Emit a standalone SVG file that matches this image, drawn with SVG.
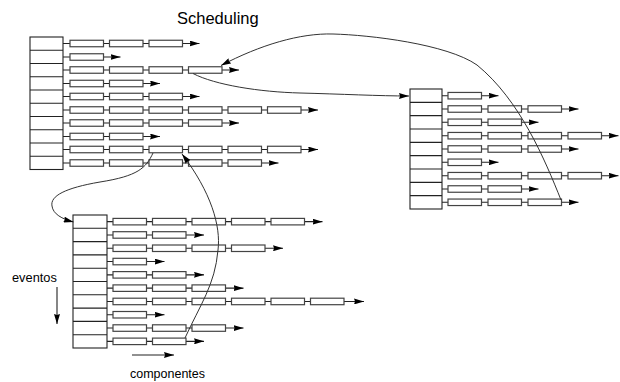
<svg xmlns="http://www.w3.org/2000/svg" width="620" height="382" viewBox="0 0 620 382">
<style>
.t{font-family:"Liberation Sans",Arial,sans-serif;fill:#000}
.arr{fill:#fff;stroke:#222;stroke-width:1.1}
.dv{stroke:#222;stroke-width:1.1}
.ln{stroke:#222;stroke-width:1.1;fill:none;marker-end:url(#ah)}
.b{fill:#fff;stroke:#444;stroke-width:1.2}
.cv{stroke:#333;stroke-width:1;fill:none;marker-end:url(#ah)}
</style>
<defs>
<marker id="ah" viewBox="0 0 10 6" refX="10" refY="3" markerWidth="10" markerHeight="6" markerUnits="userSpaceOnUse" orient="auto">
<path d="M0,0 L10,3 L0,6 L1,3 z" fill="#000"/>
</marker>
</defs>
<rect width="620" height="382" fill="#fff"/>
<text class="t" x="177" y="23.5" font-size="16.5">Scheduling</text>

<g id="top-array">
<rect class="arr" x="30" y="37" width="33" height="132.5"/>
<path class="dv" d="M30,50.25H63M30,63.5H63M30,76.75H63M30,90H63M30,103.25H63M30,116.5H63M30,129.75H63M30,143H63M30,156.25H63"/>
</g>
<g id="top-rows">
<g id="t1"><line class="ln" x1="63" y1="43.5" x2="199.5" y2="43.5"/><rect class="b" x="70" y="40.25" width="33.5" height="6.5"/><rect class="b" x="109.5" y="40.25" width="33.5" height="6.5"/><rect class="b" x="149" y="40.25" width="33.5" height="6.5"/></g>
<g id="t2"><line class="ln" x1="63" y1="57" x2="120.5" y2="57"/><rect class="b" x="70" y="53.75" width="33.5" height="6.5"/></g>
<g id="t3"><line class="ln" x1="63" y1="70" x2="239" y2="70"/><rect class="b" x="70" y="66.75" width="33.5" height="6.5"/><rect class="b" x="109.5" y="66.75" width="33.5" height="6.5"/><rect class="b" x="149" y="66.75" width="33.5" height="6.5"/><rect class="b" x="188.5" y="66.75" width="33.5" height="6.5"/></g>
<g id="t4"><line class="ln" x1="63" y1="83.5" x2="160" y2="83.5"/><rect class="b" x="70" y="80.25" width="33.5" height="6.5"/><rect class="b" x="109.5" y="80.25" width="33.5" height="6.5"/></g>
<g id="t5"><line class="ln" x1="63" y1="96.5" x2="199.5" y2="96.5"/><rect class="b" x="70" y="93.25" width="33.5" height="6.5"/><rect class="b" x="109.5" y="93.25" width="33.5" height="6.5"/><rect class="b" x="149" y="93.25" width="33.5" height="6.5"/></g>
<g id="t6"><line class="ln" x1="63" y1="110" x2="318" y2="110"/><rect class="b" x="70" y="106.75" width="33.5" height="6.5"/><rect class="b" x="109.5" y="106.75" width="33.5" height="6.5"/><rect class="b" x="149" y="106.75" width="33.5" height="6.5"/><rect class="b" x="188.5" y="106.75" width="33.5" height="6.5"/><rect class="b" x="228" y="106.75" width="33.5" height="6.5"/><rect class="b" x="267.5" y="106.75" width="33.5" height="6.5"/></g>
<g id="t7"><line class="ln" x1="63" y1="123" x2="239" y2="123"/><rect class="b" x="70" y="119.75" width="33.5" height="6.5"/><rect class="b" x="109.5" y="119.75" width="33.5" height="6.5"/><rect class="b" x="149" y="119.75" width="33.5" height="6.5"/><rect class="b" x="188.5" y="119.75" width="33.5" height="6.5"/></g>
<g id="t8"><line class="ln" x1="63" y1="136.5" x2="160" y2="136.5"/><rect class="b" x="70" y="133.25" width="33.5" height="6.5"/><rect class="b" x="109.5" y="133.25" width="33.5" height="6.5"/></g>
<g id="t9"><line class="ln" x1="63" y1="149.5" x2="318" y2="149.5"/><rect class="b" x="70" y="146.25" width="33.5" height="6.5"/><rect class="b" x="109.5" y="146.25" width="33.5" height="6.5"/><rect class="b" x="149" y="146.25" width="33.5" height="6.5"/><rect class="b" x="188.5" y="146.25" width="33.5" height="6.5"/><rect class="b" x="228" y="146.25" width="33.5" height="6.5"/><rect class="b" x="267.5" y="146.25" width="33.5" height="6.5"/></g>
<g id="t10"><line class="ln" x1="63" y1="163" x2="278.5" y2="163"/><rect class="b" x="70" y="159.75" width="33.5" height="6.5"/><rect class="b" x="109.5" y="159.75" width="33.5" height="6.5"/><rect class="b" x="149" y="159.75" width="33.5" height="6.5"/><rect class="b" x="188.5" y="159.75" width="33.5" height="6.5"/><rect class="b" x="228" y="159.75" width="33.5" height="6.5"/></g>
</g>

<g id="right-array">
<rect class="arr" x="410" y="89" width="32" height="120"/>
<path class="dv" d="M410,102.33H442M410,115.67H442M410,129H442M410,142.33H442M410,155.67H442M410,169H442M410,182.33H442M410,195.67H442"/>
</g>
<g id="right-rows">
<g id="r1"><line class="ln" x1="442" y1="95.7" x2="498.5" y2="95.7"/><rect class="b" x="448" y="92.45" width="33.5" height="6.5"/></g>
<g id="r2"><line class="ln" x1="442" y1="109" x2="578.5" y2="109"/><rect class="b" x="448" y="105.75" width="33.5" height="6.5"/><rect class="b" x="488" y="105.75" width="33.5" height="6.5"/><rect class="b" x="528" y="105.75" width="33.5" height="6.5"/></g>
<g id="r3"><line class="ln" x1="442" y1="122.3" x2="538.5" y2="122.3"/><rect class="b" x="448" y="119.05" width="33.5" height="6.5"/><rect class="b" x="488" y="119.05" width="33.5" height="6.5"/></g>
<g id="r4"><line class="ln" x1="442" y1="135.7" x2="618.5" y2="135.7"/><rect class="b" x="448" y="132.45" width="33.5" height="6.5"/><rect class="b" x="488" y="132.45" width="33.5" height="6.5"/><rect class="b" x="528" y="132.45" width="33.5" height="6.5"/><rect class="b" x="568" y="132.45" width="33.5" height="6.5"/></g>
<g id="r5"><line class="ln" x1="442" y1="149" x2="578.5" y2="149"/><rect class="b" x="448" y="145.75" width="33.5" height="6.5"/><rect class="b" x="488" y="145.75" width="33.5" height="6.5"/><rect class="b" x="528" y="145.75" width="33.5" height="6.5"/></g>
<g id="r6"><line class="ln" x1="442" y1="162.3" x2="498.5" y2="162.3"/><rect class="b" x="448" y="159.05" width="33.5" height="6.5"/></g>
<g id="r7"><line class="ln" x1="442" y1="175.7" x2="618.5" y2="175.7"/><rect class="b" x="448" y="172.45" width="33.5" height="6.5"/><rect class="b" x="488" y="172.45" width="33.5" height="6.5"/><rect class="b" x="528" y="172.45" width="33.5" height="6.5"/><rect class="b" x="568" y="172.45" width="33.5" height="6.5"/></g>
<g id="r8"><line class="ln" x1="442" y1="189" x2="538.5" y2="189"/><rect class="b" x="448" y="185.75" width="33.5" height="6.5"/><rect class="b" x="488" y="185.75" width="33.5" height="6.5"/></g>
<g id="r9"><line class="ln" x1="442" y1="202.3" x2="578.5" y2="202.3"/><rect class="b" x="448" y="199.05" width="33.5" height="6.5"/><rect class="b" x="488" y="199.05" width="33.5" height="6.5"/><rect class="b" x="528" y="199.05" width="33.5" height="6.5"/></g>
</g>

<g id="bottom-array">
<rect class="arr" x="73" y="215" width="34" height="133"/>
<path class="dv" d="M73,228.3H107M73,241.6H107M73,254.9H107M73,268.2H107M73,281.5H107M73,294.8H107M73,308.1H107M73,321.4H107M73,334.7H107"/>
</g>
<g id="bottom-rows">
<g id="b1"><line class="ln" x1="107" y1="221.65" x2="322.5" y2="221.65"/><rect class="b" x="113" y="218.4" width="33.5" height="6.5"/><rect class="b" x="152.5" y="218.4" width="33.5" height="6.5"/><rect class="b" x="192" y="218.4" width="33.5" height="6.5"/><rect class="b" x="231.5" y="218.4" width="33.5" height="6.5"/><rect class="b" x="271" y="218.4" width="33.5" height="6.5"/></g>
<g id="b2"><line class="ln" x1="107" y1="234.95" x2="204" y2="234.95"/><rect class="b" x="113" y="231.7" width="33.5" height="6.5"/><rect class="b" x="152.5" y="231.7" width="33.5" height="6.5"/></g>
<g id="b3"><line class="ln" x1="107" y1="248.25" x2="283" y2="248.25"/><rect class="b" x="113" y="245" width="33.5" height="6.5"/><rect class="b" x="152.5" y="245" width="33.5" height="6.5"/><rect class="b" x="192" y="245" width="33.5" height="6.5"/><rect class="b" x="231.5" y="245" width="33.5" height="6.5"/></g>
<g id="b4"><line class="ln" x1="107" y1="261.55" x2="164.5" y2="261.55"/><rect class="b" x="113" y="258.3" width="33.5" height="6.5"/></g>
<g id="b5"><line class="ln" x1="107" y1="274.85" x2="204" y2="274.85"/><rect class="b" x="113" y="271.6" width="33.5" height="6.5"/><rect class="b" x="152.5" y="271.6" width="33.5" height="6.5"/></g>
<g id="b6"><line class="ln" x1="107" y1="288.15" x2="243.5" y2="288.15"/><rect class="b" x="113" y="284.9" width="33.5" height="6.5"/><rect class="b" x="152.5" y="284.9" width="33.5" height="6.5"/><rect class="b" x="192" y="284.9" width="33.5" height="6.5"/></g>
<g id="b7"><line class="ln" x1="107" y1="301.45" x2="364" y2="301.45"/><rect class="b" x="113" y="298.2" width="33.5" height="6.5"/><rect class="b" x="152.5" y="298.2" width="33.5" height="6.5"/><rect class="b" x="192" y="298.2" width="33.5" height="6.5"/><rect class="b" x="231.5" y="298.2" width="33.5" height="6.5"/><rect class="b" x="271" y="298.2" width="33.5" height="6.5"/><rect class="b" x="310.5" y="298.2" width="33.5" height="6.5"/></g>
<g id="b8"><line class="ln" x1="107" y1="314.75" x2="164.5" y2="314.75"/><rect class="b" x="113" y="311.5" width="33.5" height="6.5"/></g>
<g id="b9"><line class="ln" x1="107" y1="328.05" x2="243.5" y2="328.05"/><rect class="b" x="113" y="324.8" width="33.5" height="6.5"/><rect class="b" x="152.5" y="324.8" width="33.5" height="6.5"/><rect class="b" x="192" y="324.8" width="33.5" height="6.5"/></g>
<g id="b10"><line class="ln" x1="107" y1="341.35" x2="204" y2="341.35"/><rect class="b" x="113" y="338.1" width="33.5" height="6.5"/><rect class="b" x="152.5" y="338.1" width="33.5" height="6.5"/></g>
</g>

<g id="connectors">
<path class="cv" d="M193,73.5 C215,85 260,92 300,93 C340,94 380,96 409,96"/>
<path class="cv" d="M561,200 C545,160 520,100 477,65 C447,44 370,35 333,34 C300,33 260,45 221,65.5"/>
<path class="cv" d="M153,153 C146,168 138,176 100,182 C65,188 50,196 52,206 C53,214 62,219 73.5,222"/>
<path class="cv" d="M185,338 C200,305 215,285 218,250 C221,226 211,192 182,154"/>
</g>

<g id="legend">
<text class="t" x="12" y="282" font-size="12.8">eventos</text>
<line class="ln" x1="57" y1="287" x2="57" y2="324"/>
<line class="ln" x1="132" y1="355" x2="174" y2="355"/>
<text class="t" x="130" y="378" font-size="12.5">componentes</text>
</g>
</svg>
